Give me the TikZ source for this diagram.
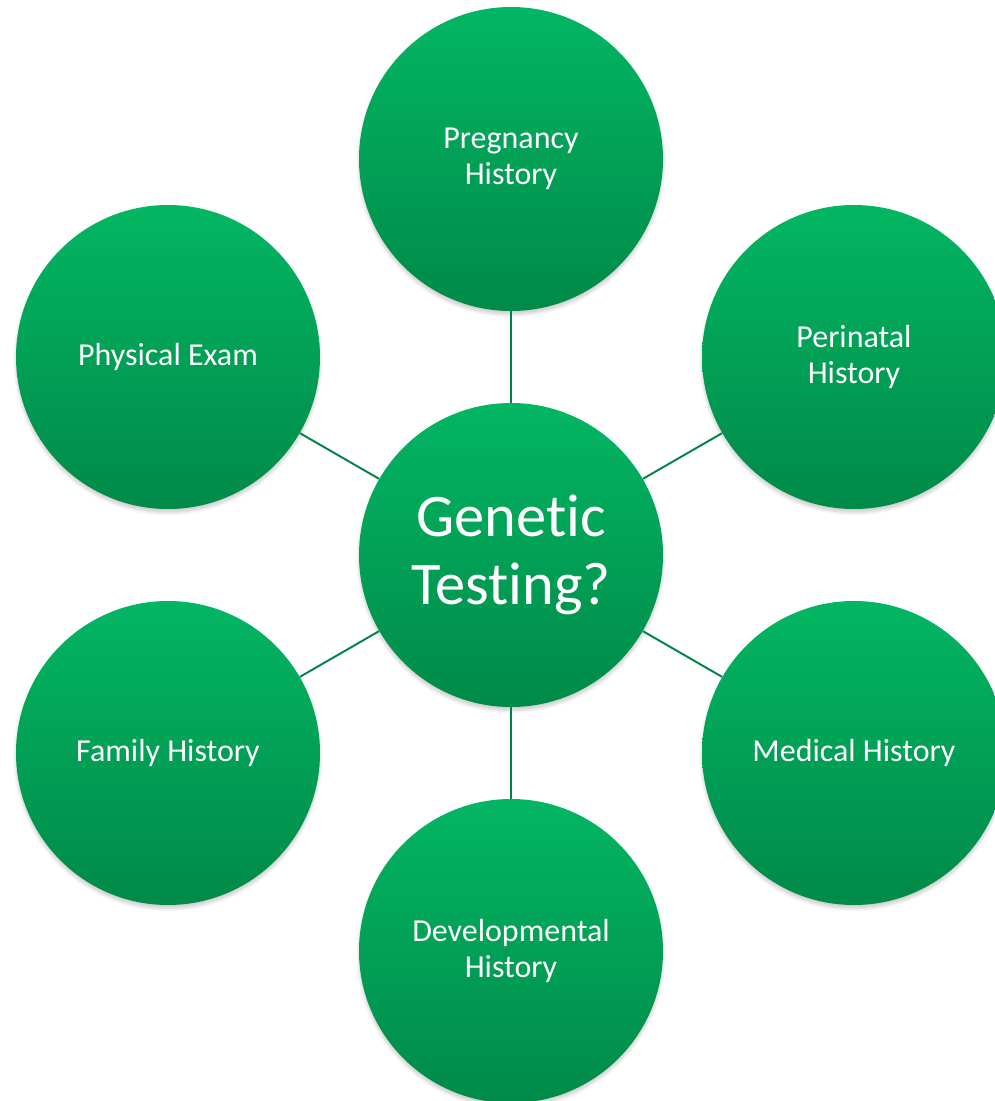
\documentclass[tikz,border=0pt]{standalone}
\usepackage{fontspec}
\setmainfont[Ligatures={NoCommon}]{Carlito}
\usetikzlibrary{shadows.blur}

\definecolor{topgreen}{HTML}{03B663}
\definecolor{botgreen}{HTML}{008A48}
\definecolor{linkgreen}{HTML}{00834A}

\begin{document}
\begin{tikzpicture}[
		topic/.style = {circle, minimum size = 6.08cm, inner sep = 0pt,
			top color = topgreen, bottom color = botgreen, text = white,
			align = center, font = \fontsize{18.2}{20.5}\selectfont,
			blur shadow = {shadow xshift = 0pt, shadow yshift = -2pt,
				shadow blur steps = 6, shadow opacity = 20}},
		hub/.style = {topic, font = \fontsize{34.4}{38.7}\selectfont},
		link/.style = {draw = linkgreen, line width = 1.1pt}
		]
		\useasboundingbox (-10.22,-10.92) rectangle (9.66,11.1);
		
		\node [hub] (gen) at (0,0) {Genetic\\Testing?};
		
		\node [topic] (preg) at (0, 7.92) {Pregnancy\\History};
		\node [topic] (peri) at (6.86, 3.96) {Perinatal\\History};
		\node [topic] (med) at (6.86, -3.96) {Medical History};
		\node [topic] (dev) at (0, -7.92) {Developmental\\History};
		\node [topic] (fam) at (-6.86, -3.96) {Family History};
		\node [topic] (phys) at (-6.86, 3.96) {Physical Exam};
		
		\draw [link] (gen) -- (preg);
		\draw [link] (gen) -- (peri);
		\draw [link] (gen) -- (med);
		\draw [link] (gen) -- (dev);
		\draw [link] (gen) -- (fam);
		\draw [link] (gen) -- (phys);
		
		\end{tikzpicture}
\end{document}
